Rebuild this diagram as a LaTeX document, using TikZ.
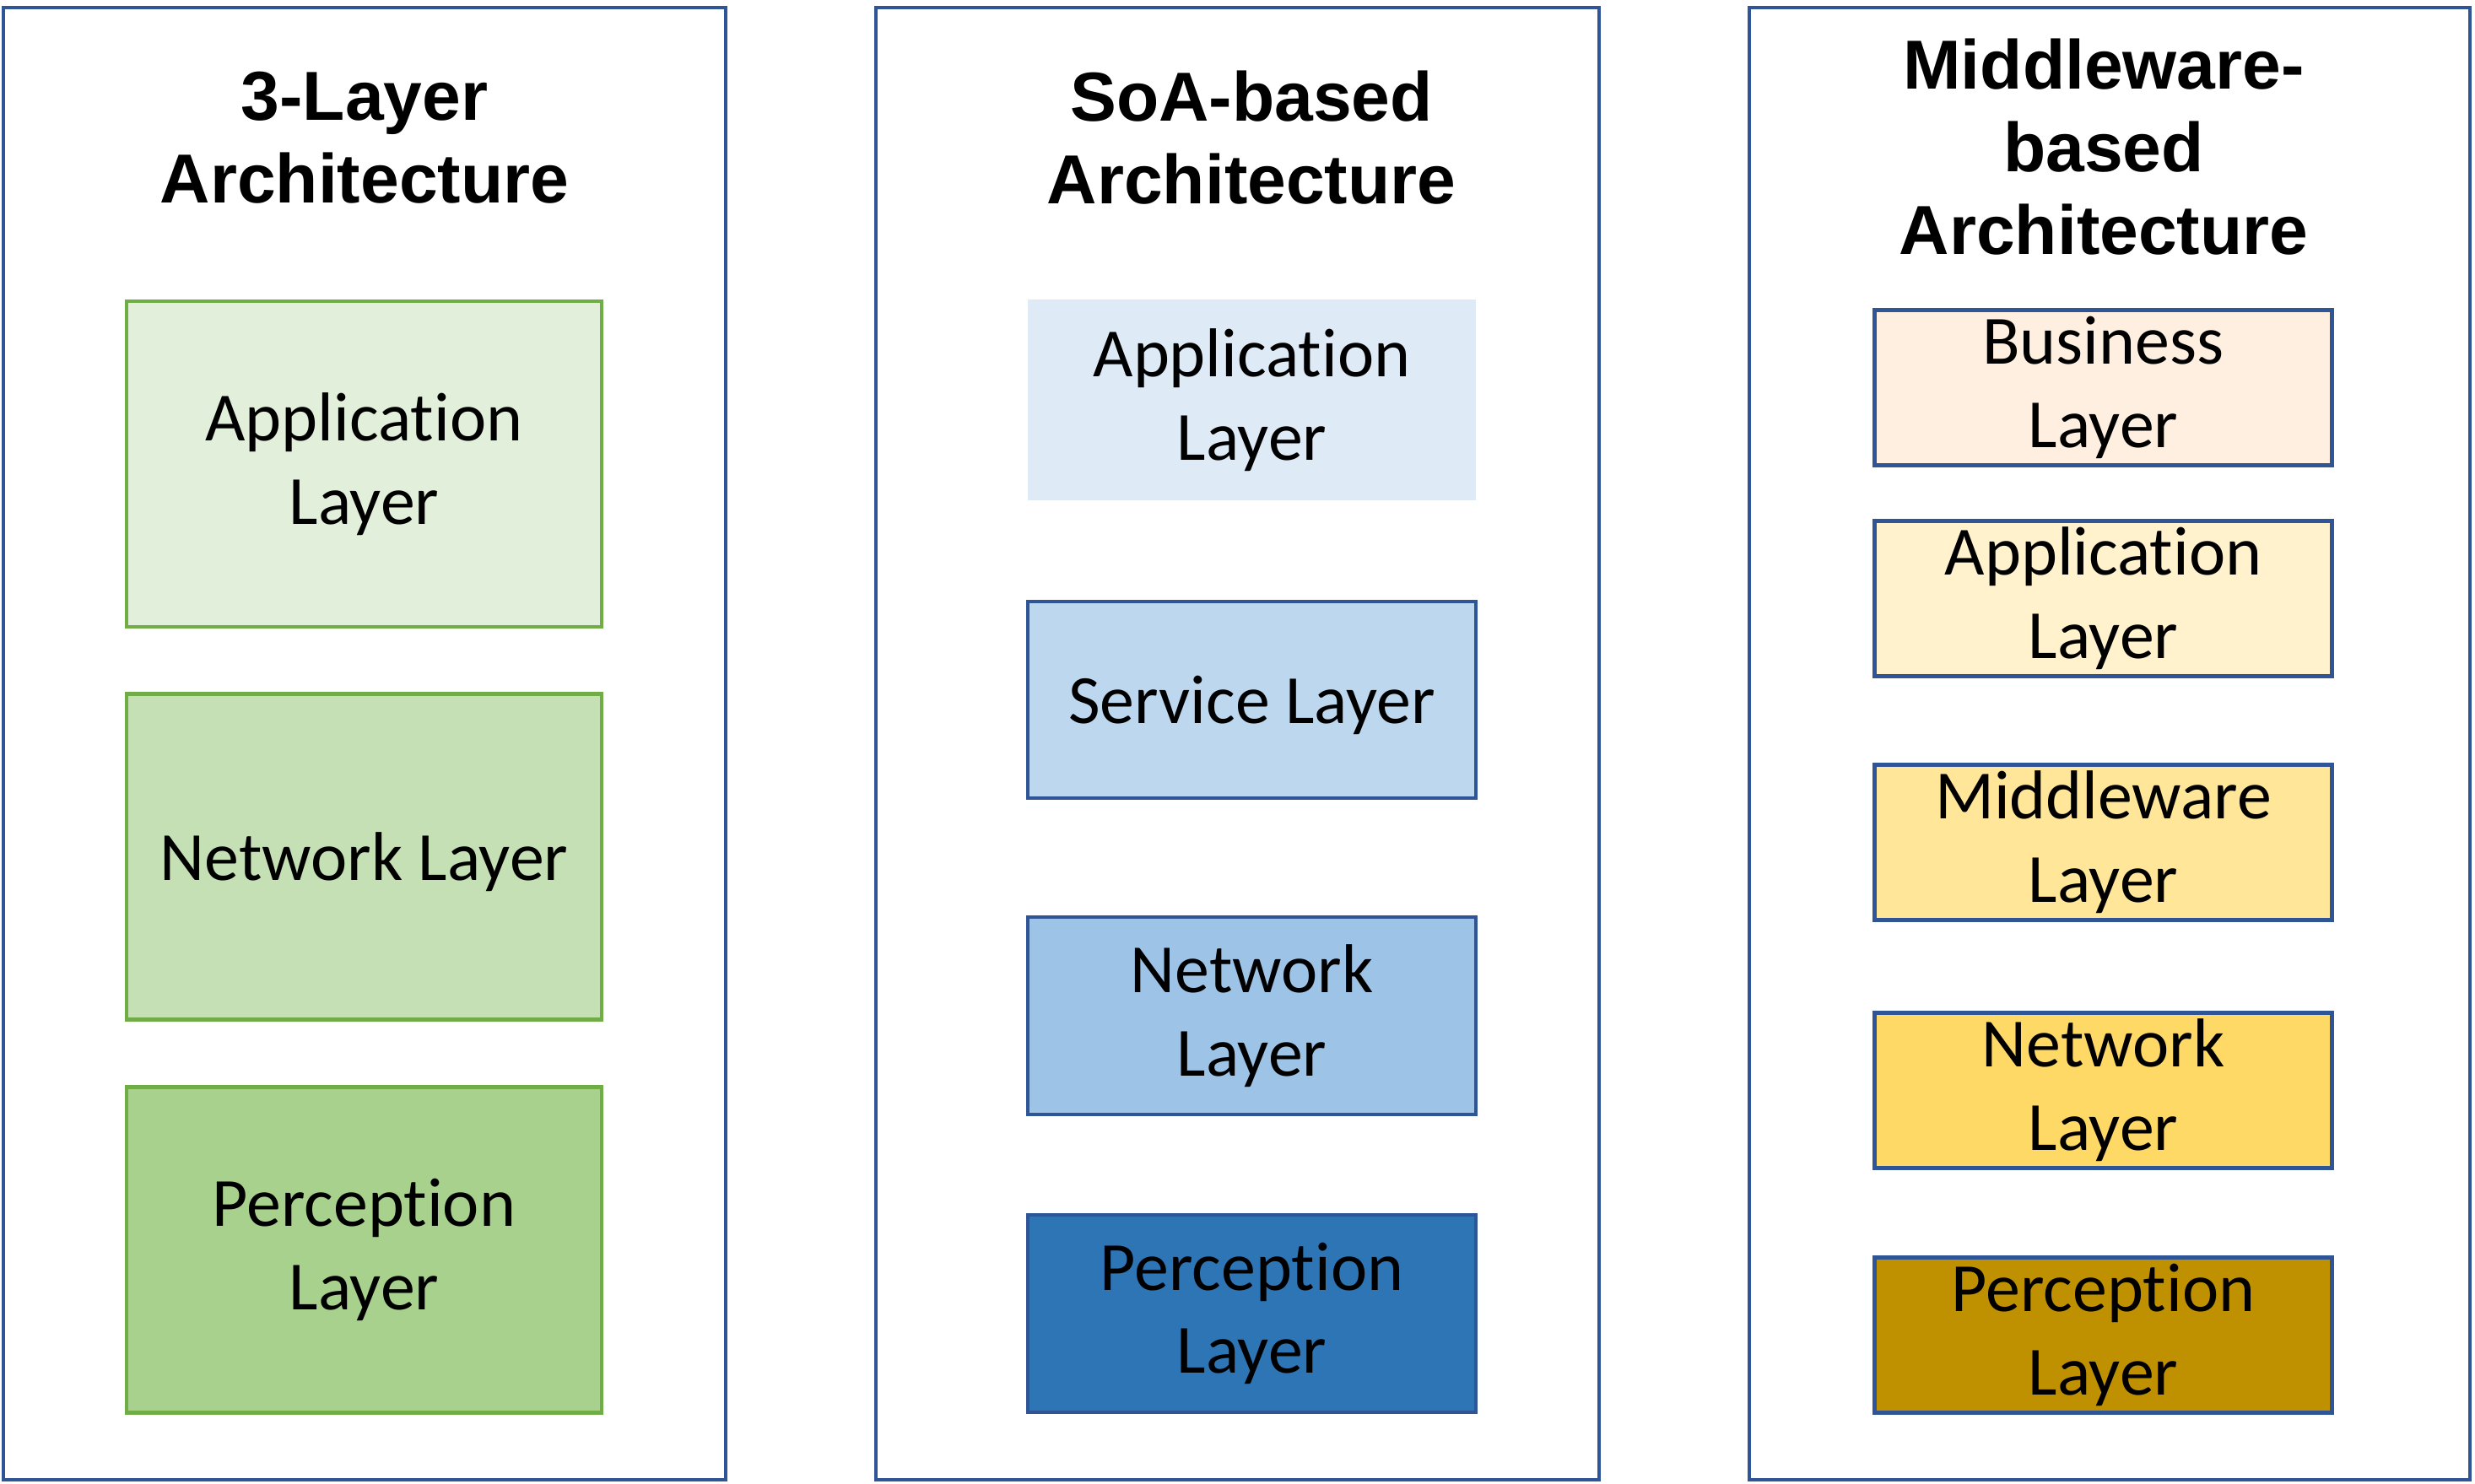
\documentclass[tikz,border=0pt]{standalone}
\usepackage{fontspec}
\setmainfont{Carlito}[Ligatures=NoCommon]
\newfontfamily\headfont{Liberation Sans}
\usepackage{xcolor}
\usepackage{tikz}
\usetikzlibrary{positioning}

\definecolor{frameblue}{HTML}{2F5597}
\definecolor{leafgreen}{HTML}{70AD47}
\definecolor{greenA}{HTML}{E2EFDA}
\definecolor{greenB}{HTML}{C5E0B4}
\definecolor{greenC}{HTML}{A9D18E}
\definecolor{blueA}{HTML}{DEEBF7}
\definecolor{blueB}{HTML}{BDD7EE}
\definecolor{blueC}{HTML}{9DC3E6}
\definecolor{blueD}{HTML}{2E75B6}
\definecolor{goldA}{HTML}{FFEFE0}
\definecolor{goldB}{HTML}{FFF2CC}
\definecolor{goldC}{HTML}{FFE699}
\definecolor{goldD}{HTML}{FFD966}
\definecolor{goldE}{HTML}{BF9000}

\begin{document}
\begin{tikzpicture}[
    x=1.0cm, y=1.0cm,
    panel/.style={rectangle, draw=frameblue, line width=1.2pt, fill=white, inner sep=0pt, minimum height=17.45cm},
    heading/.style={align=center, inner sep=0pt, font=\headfont\bfseries\fontsize{23.4}{27.9}\selectfont},
    layerbox/.style={rectangle, line width=1.2pt, inner sep=0pt, align=center, font=\fontsize{23.3}{28.1}\selectfont, execute at begin node={\rule{0pt}{19.6pt}}},
    greenbox/.style={layerbox, draw=leafgreen, minimum width=5.63cm, minimum height=3.86cm},
    soabox/.style={layerbox, draw=frameblue, minimum width=5.31cm, minimum height=2.34cm},
    mwbox/.style={layerbox, draw=frameblue, minimum width=5.42cm, minimum height=1.84cm}
]
    \useasboundingbox (0,0) rectangle (29.33,17.59);

    % Panels
    \node (three) at (4.32, 8.775) [panel, minimum width=8.56cm] {};
    \node (soa) at (14.665, 8.775) [panel, minimum width=8.57cm] {};
    \node (mw) at (25.00, 8.775) [panel, minimum width=8.54cm] {};

    % Headings
    \node (threehead) at (4.32, 15.96) [heading] {3-Layer\\Architecture};
    \node (soahead) at (14.83, 15.96) [heading] {SoA-based\\Architecture};
    \node (mwhead) at (24.93, 15.845) [heading] {Middleware-\\based\\Architecture};

    % 3-Layer Architecture
    \node (tapp) at (4.315, 12.09) [greenbox, fill=greenA] {Application\\Layer};
    \node (tnet) at (4.315, 7.435) [greenbox, fill=greenB] {Network Layer};
    \node (tper) at (4.315, 2.775) [greenbox, fill=greenC] {Perception\\Layer};

    % SoA-based Architecture
    \node (sapp) at (14.835, 12.85) [soabox, draw=none, fill=blueA, minimum height=2.38cm] {Application\\Layer};
    \node (ssvc) at (14.835, 9.295) [soabox, fill=blueB, minimum height=2.33cm] {Service Layer};
    \node (snet) at (14.835, 5.55) [soabox, fill=blueC] {Network\\Layer};
    \node (sper) at (14.835, 2.02) [soabox, fill=blueD] {Perception\\Layer};

    % Middleware-based Architecture
    \node (mbus) at (24.925, 12.995) [mwbox, fill=goldA] {Business\\Layer};
    \node (mapp) at (24.925, 10.495) [mwbox, fill=goldB] {Application\\Layer};
    \node (mmid) at (24.925, 7.605) [mwbox, fill=goldC] {Middleware\\Layer};
    \node (mnet) at (24.925, 4.665) [mwbox, fill=goldD] {Network\\Layer};
    \node (mper) at (24.925, 1.765) [mwbox, fill=goldE] {Perception\\Layer};

\end{tikzpicture}
\end{document}
